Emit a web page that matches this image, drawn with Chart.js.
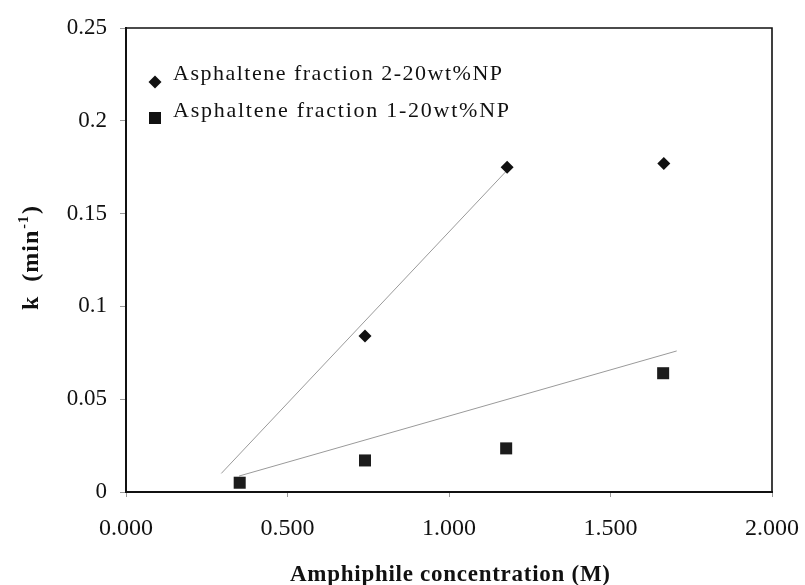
<!DOCTYPE html>
<html>
<head>
<meta charset="utf-8">
<script src="https://cdn.jsdelivr.net/npm/chart.js@4.4.1/dist/chart.umd.min.js"></script>
<style>
  html, body { margin: 0; padding: 0; background: #fff; }
</style>
</head>
<body>
<canvas id="myChart" width="805" height="585"></canvas>
<script>
// data
var seriesNames = ['Asphaltene fraction 2-20wt%NP', 'Asphaltene fraction 1-20wt%NP'];
var frac2X = [0.74, 1.18, 1.665];
var frac2Y = [0.084, 0.175, 0.177];
var frac1X = [0.352, 0.74, 1.177, 1.663];
var frac1Y = [0.005, 0.017, 0.0235, 0.064];
var trend2X = [0.295, 1.178];
var trend2Y = [0.010, 0.173];
var trend1X = [0.35, 1.705];
var trend1Y = [0.0086, 0.076];
var xTickLabels = ['0.000', '0.500', '1.000', '1.500', '2.000'];
var yTickLabels = ['0', '0.05', '0.1', '0.15', '0.2', '0.25'];
var xTitle = 'Amphiphile concentration (M)';
var yTitle = ['k  (min', '-1', ')'];

function toPoints(xs, ys) {
    return xs.map(function (x, i) { return { x: x, y: ys[i] }; });
}

// draw text stretched to a given width (the scan has wide letter spacing)
function spacedText(ctx, text, x, y, width) {
    ctx.letterSpacing = '0px';
    var w = ctx.measureText(text).width;
    var ls = Math.max(0, (width - w) / (text.length - 1));
    ctx.letterSpacing = ls + 'px';
    ctx.fillText(text, x, y);
    ctx.letterSpacing = '0px';
}

var extras = {
    id: 'extras',
    afterDraw: function (chart) {
        var ctx = chart.ctx, a = chart.chartArea;
        ctx.save();
        // top and right frame
        ctx.strokeStyle = '#111';
        ctx.lineWidth = 1.6;
        ctx.beginPath();
        ctx.moveTo(a.left, a.top);
        ctx.lineTo(a.right, a.top);
        ctx.lineTo(a.right, a.bottom);
        ctx.stroke();

        // legend inside the plot
        var styles = [
            { pointStyle: 'rectRot', radius: 6.5, rotation: 0, borderWidth: 0 },
            { pointStyle: 'rect', radius: 8.5, rotation: 0, borderWidth: 0 }
        ];
        var rows = [[82, 80], [118, 117]];
        var widths = [329, 336];
        ctx.fillStyle = '#111';
        ctx.font = '22px "Liberation Serif"';
        ctx.textAlign = 'left';
        ctx.textBaseline = 'alphabetic';
        for (var i = 0; i < 2; i++) {
            Chart.helpers.drawPoint(ctx, styles[i], 155, rows[i][0]);
            ctx.fillStyle = '#111';
            spacedText(ctx, seriesNames[i], 173, rows[i][1], widths[i]);
        }

        // x title
        ctx.font = 'bold 23px "Liberation Serif"';
        spacedText(ctx, xTitle, 290, 581, 320);

        // y title, rotated, with superscript
        ctx.translate(38, 310);
        ctx.rotate(-Math.PI / 2);
        ctx.font = 'bold 24px "Liberation Serif"';
        ctx.letterSpacing = '1px';
        ctx.fillText(yTitle[0], 0, 0);
        var w0 = ctx.measureText(yTitle[0]).width;
        ctx.font = 'bold 14px "Liberation Serif"';
        ctx.fillText(yTitle[1], w0 + 1, -10);
        var w1 = ctx.measureText(yTitle[1]).width;
        ctx.font = 'bold 24px "Liberation Serif"';
        ctx.fillText(yTitle[2], w0 + w1 + 2, 0);
        ctx.restore();
    }
};

var ctx = document.getElementById('myChart').getContext('2d');
var myChart = new Chart(ctx, {
    type: 'scatter',
    data: {
        datasets: [{
            label: seriesNames[0],
            data: toPoints(frac2X, frac2Y),
            pointStyle: 'rectRot',
            pointRadius: 6.5,
            backgroundColor: '#111',
            borderColor: '#111',
            borderWidth: 0
        }, {
            label: seriesNames[1],
            data: toPoints(frac1X, frac1Y),
            pointStyle: 'rect',
            pointRadius: 8.5,
            backgroundColor: '#1c1c1c',
            borderColor: '#1c1c1c',
            borderWidth: 0
        }, {
            type: 'line',
            label: 'trend 2',
            data: toPoints(trend2X, trend2Y),
            borderColor: '#9a9a9a',
            borderWidth: 1,
            pointRadius: 0,
            fill: false
        }, {
            type: 'line',
            label: 'trend 1',
            data: toPoints(trend1X, trend1Y),
            borderColor: '#9a9a9a',
            borderWidth: 1,
            pointRadius: 0,
            fill: false
        }]
    },
    options: {
        responsive: false,
        animation: false,
        layout: { padding: { left: 0, top: 28, right: 33, bottom: 0 } },
        plugins: {
            legend: { display: false },
            tooltip: { enabled: false }
        },
        scales: {
            x: {
                type: 'linear',
                min: 0,
                max: 2,
                afterFit: function (s) { s.height = 93; s.paddingRight = 0; s.paddingLeft = 0; },
                grid: { drawOnChartArea: false, drawTicks: true, tickLength: 5, color: '#999' },
                border: { color: '#111', width: 2 },
                ticks: {
                    stepSize: 0.5,
                    padding: 17,
                    color: '#111',
                    font: { family: 'Liberation Serif', size: 24 },
                    callback: function (v) { return xTickLabels[Math.round(v / 0.5)]; }
                }
            },
            y: {
                min: 0,
                max: 0.25,
                afterFit: function (s) { s.width = 126; },
                grid: { drawOnChartArea: false, drawTicks: true, tickLength: 6, color: '#999' },
                border: { color: '#111', width: 2 },
                ticks: {
                    stepSize: 0.05,
                    padding: 13,
                    color: '#111',
                    font: { family: 'Liberation Serif', size: 23 },
                    callback: function (v) { return yTickLabels[Math.round(v / 0.05)]; }
                }
            }
        }
    },
    plugins: [extras]
});
</script>
</body>
</html>
